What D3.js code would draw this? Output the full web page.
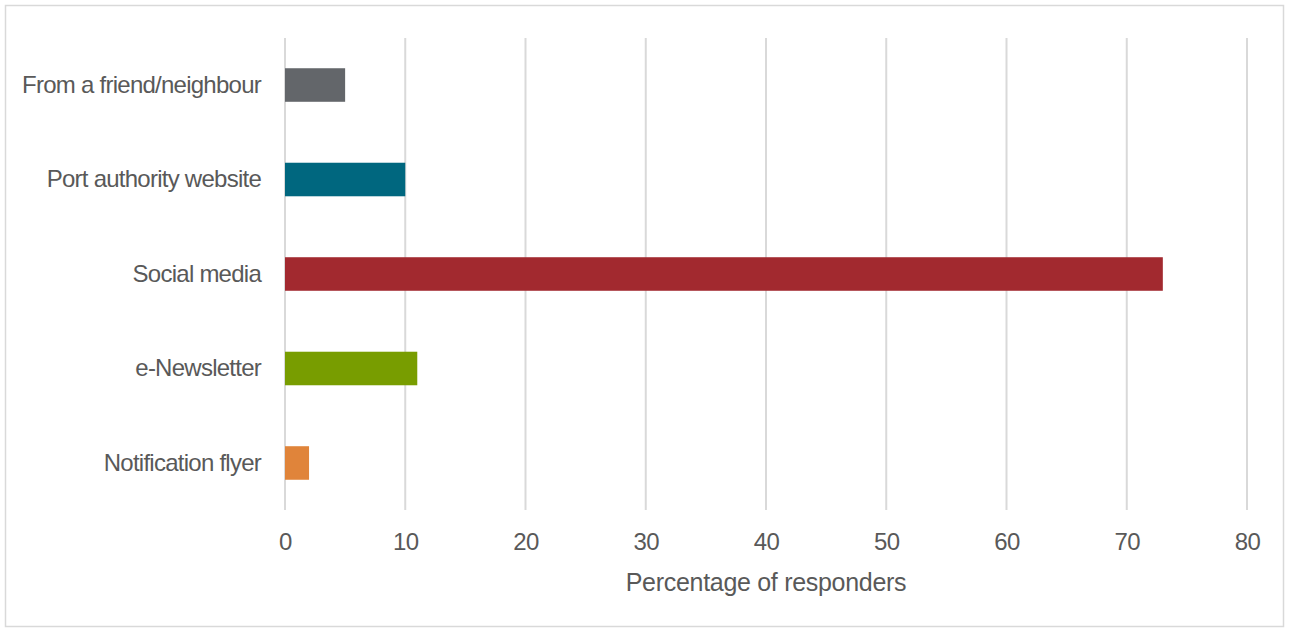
<!DOCTYPE html>
<html><head><meta charset="utf-8">
<script src="https://cdn.jsdelivr.net/npm/d3@7"></script>
<style>body{margin:0;background:#fff;} text{font-family:"Liberation Sans",Arial,sans-serif;}</style>
</head><body><svg id="c" width="1290" height="633"></svg>
<script>
const categories = ["From a friend/neighbour","Port authority website","Social media","e-Newsletter","Notification flyer"];
const values = [5, 10, 73, 11, 2];
const colors = ["#63666a","#00677f","#a2292f","#789d00","#e0843a"];
const xTicks = [0,10,20,30,40,50,60,70,80];
const xTitle = "Percentage of responders";

const svg = d3.select("#c");
svg.append("rect").attr("x",5.5).attr("y",5.5).attr("width",1278).attr("height",621)
  .attr("fill","#fff").attr("stroke","#d9d9d9").attr("stroke-width",1.5);

const x = d3.scaleLinear().domain([0,80]).range([285,1247]);
const y = d3.scaleBand().domain(categories).range([38,510]).paddingInner(0.645).paddingOuter(0.32);

const g = svg.append("g");
g.selectAll("line.grid").data(xTicks).join("line").attr("class","grid")
  .attr("x1",d=>x(d)).attr("x2",d=>x(d)).attr("y1",38).attr("y2",510)
  .attr("stroke","#d9d9d9").attr("stroke-width",2);

g.selectAll("rect.bar").data(categories).join("rect").attr("class","bar")
  .attr("x",x(0)).attr("y",d=>y(d)).attr("height",y.bandwidth())
  .attr("width",(d,i)=>x(values[i])-x(0)).attr("fill",(d,i)=>colors[i]);

const xAxis = d3.axisBottom(x).tickValues(xTicks).tickSize(0).tickPadding(0);
const xa = svg.append("g").attr("transform","translate(0,550)").call(xAxis);
xa.select(".domain").remove();
xa.selectAll("text").attr("font-size",24).attr("fill","#595959").attr("dy",0)
  .style("font-family","Liberation Sans, Arial, sans-serif").attr("letter-spacing","-0.5");

const yAxis = d3.axisLeft(y).tickSize(0).tickPadding(24);
const ya = svg.append("g").attr("transform",`translate(${x(0)},0)`).call(yAxis);
ya.select(".domain").remove();
ya.selectAll("text").attr("font-size",24).attr("fill","#595959").attr("dy","0.32em")
  .style("font-family","Liberation Sans, Arial, sans-serif").attr("letter-spacing","-0.75");

svg.append("text").attr("x",766).attr("y",591).attr("text-anchor","middle")
  .attr("font-size",25).attr("fill","#595959").attr("letter-spacing","-0.3").text(xTitle);
</script></body></html>
